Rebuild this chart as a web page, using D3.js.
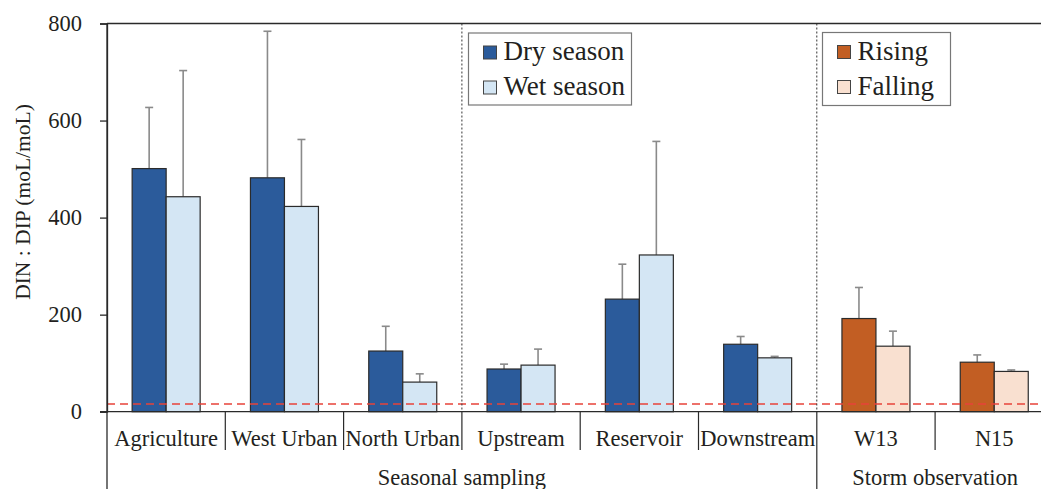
<!DOCTYPE html>
<html>
<head>
<meta charset="utf-8">
<script src="https://cdn.jsdelivr.net/npm/d3@7"></script>
<style>
  html, body { margin: 0; padding: 0; background: #fff; }
  svg { display: block; font-family: "Liberation Serif", "Times New Roman", serif; }
</style>
</head>
<body>
<svg id="chart" width="1041" height="489"></svg>
<script>
// DIN:DIP molar ratios (mean and standard deviation) per site
const seasonalSites = ["Agriculture", "West Urban", "North Urban", "Upstream", "Reservoir", "Downstream"];
const drySeason   = [501, 482, 125, 88, 232, 139];
const drySeasonSD = [126, 302, 51, 10, 72, 16];
const wetSeason   = [443, 423, 61, 96, 323, 111];
const wetSeasonSD = [260, 138, 17, 33, 234, 3];

const stormSites = ["W13", "N15"];
const rising     = [192, 102];
const risingSD   = [64, 15];
const falling    = [135, 83];
const fallingSD  = [31, 3];

const yTicks = [0, 200, 400, 600, 800];
const redfieldRatio = 16;
const groupLabels = ["Seasonal sampling", "Storm observation"];

const colors = {
  dry: "#2b5b9b", wet: "#d4e6f4",
  rising: "#c25e23", falling: "#f9e0d0"
};

const svg = d3.select("#chart");
const textColor = "#231f20";
const lineColor = "#2a2a2a";
const labelSize = 22.5;

const plotLeft = 107, plotRight = 1053.4, plotTop = 23.5, plotBottom = 411.7;

const sites = seasonalSites.concat(stormSites);
const x = d3.scaleBand().domain(sites).range([plotLeft, plotRight]).paddingInner(0).paddingOuter(0);
const barsWidth = 68;
const x1 = d3.scaleBand().domain([0, 1]).range([0, barsWidth]);
const y = d3.scaleLinear().domain([0, 800]).range([plotBottom, plotTop]);

// Build one record per bar
const bars = [];
seasonalSites.forEach((s, i) => {
  bars.push({ site: s, k: 0, v: drySeason[i], sd: drySeasonSD[i], fill: colors.dry });
  bars.push({ site: s, k: 1, v: wetSeason[i], sd: wetSeasonSD[i], fill: colors.wet });
});
stormSites.forEach((s, i) => {
  bars.push({ site: s, k: 0, v: rising[i], sd: risingSD[i], fill: colors.rising });
  bars.push({ site: s, k: 1, v: falling[i], sd: fallingSD[i], fill: colors.falling });
});
const barX = d => x(d.site) + (x.bandwidth() - barsWidth) / 2 + x1(d.k);

// Error bars (upper only), drawn under the bars
const eb = svg.append("g").attr("stroke", "#8a8a8a").attr("stroke-width", 1.6);
bars.forEach(d => {
  const cx = barX(d) + x1.bandwidth() / 2;
  eb.append("line").attr("x1", cx).attr("x2", cx).attr("y1", y(d.v)).attr("y2", y(d.v + d.sd));
  eb.append("line").attr("x1", cx - 4).attr("x2", cx + 4).attr("y1", y(d.v + d.sd)).attr("y2", y(d.v + d.sd));
});

// Bars
svg.append("g").selectAll("rect").data(bars).join("rect")
  .attr("x", barX)
  .attr("y", d => y(d.v))
  .attr("width", x1.bandwidth())
  .attr("height", d => y(0) - y(d.v))
  .attr("fill", d => d.fill)
  .attr("stroke", "#2b2b2b")
  .attr("stroke-width", 1.2);

// Redfield ratio reference line
svg.append("line")
  .attr("x1", plotLeft).attr("x2", plotRight)
  .attr("y1", y(redfieldRatio)).attr("y2", y(redfieldRatio))
  .attr("stroke", "#e8433a").attr("stroke-width", 1.4)
  .attr("stroke-dasharray", "8,5");

// Dotted separators between site groups
["Upstream", "W13"].forEach(s => {
  svg.append("line")
    .attr("x1", x(s)).attr("x2", x(s))
    .attr("y1", plotTop).attr("y2", plotBottom)
    .attr("stroke", "#333").attr("stroke-width", 1)
    .attr("stroke-dasharray", "2,2");
});

// Top border
svg.append("line").attr("x1", plotLeft).attr("x2", plotRight).attr("y1", plotTop).attr("y2", plotTop)
  .attr("stroke", lineColor).attr("stroke-width", 1.3);

// Y axis
const yAxis = d3.axisLeft(y).tickValues(yTicks).tickSize(7).tickPadding(18).tickFormat(d3.format("d"));
const yg = svg.append("g").attr("transform", `translate(${plotLeft},0)`).call(yAxis);
yg.select(".domain").attr("stroke", lineColor).attr("stroke-width", 1.3);
yg.selectAll(".tick line").attr("stroke", lineColor).attr("stroke-width", 1.3);
yg.selectAll(".tick text").attr("font-size", labelSize).attr("fill", textColor)
  .attr("font-family", "Liberation Serif, Times New Roman, serif");

// Extend y-axis line down past the category labels
svg.append("line").attr("x1", plotLeft).attr("x2", plotLeft).attr("y1", plotTop).attr("y2", 489)
  .attr("stroke", lineColor).attr("stroke-width", 1.3);

// X axis line
svg.append("line").attr("x1", plotLeft - 7).attr("x2", plotRight).attr("y1", plotBottom).attr("y2", plotBottom)
  .attr("stroke", lineColor).attr("stroke-width", 1.3);

// Category separator ticks below axis
sites.forEach((s, i) => {
  if (i === 0) return;
  const full = s === "W13";
  svg.append("line").attr("x1", x(s)).attr("x2", x(s))
    .attr("y1", plotBottom).attr("y2", full ? 489 : 450)
    .attr("stroke", lineColor).attr("stroke-width", 1.2);
});

// Category labels
svg.append("g").selectAll("text").data(sites).join("text")
  .attr("x", d => x(d) + x.bandwidth() / 2)
  .attr("y", 446)
  .attr("text-anchor", "middle")
  .attr("font-size", labelSize)
  .attr("fill", textColor)
  .text(d => d);

// Group labels
const groupCenters = [
  (x(seasonalSites[0]) + x("W13")) / 2,
  (x("W13") + plotRight) / 2
];
groupLabels.forEach((g, i) => {
  svg.append("text").attr("x", groupCenters[i]).attr("y", 485)
    .attr("text-anchor", "middle").attr("font-size", labelSize).attr("fill", textColor).text(g);
});

// Y axis title
svg.append("text")
  .attr("transform", `translate(30,202) rotate(-90)`)
  .attr("text-anchor", "middle")
  .attr("font-size", 21.5)
  .attr("fill", textColor)
  .text("DIN : DIP (moL/moL)");

// Legends
function legend(x0, y0, w, h, items) {
  const g = svg.append("g");
  g.append("rect").attr("x", x0).attr("y", y0).attr("width", w).attr("height", h)
    .attr("fill", "#fff").attr("stroke", "#777").attr("stroke-width", 1.2);
  items.forEach((it, i) => {
    const yy = y0 + 13 + i * 35;
    g.append("rect").attr("x", x0 + 15).attr("y", yy).attr("width", 13).attr("height", 13)
      .attr("fill", it.fill).attr("stroke", "#444").attr("stroke-width", 1);
    g.append("text").attr("x", x0 + 35).attr("y", yy + 14).attr("font-size", 27)
      .attr("fill", textColor).text(it.label);
  });
}
legend(468.5, 33, 163, 72, [{ label: "Dry season", fill: colors.dry }, { label: "Wet season", fill: colors.wet }]);
legend(822.5, 32.5, 128, 73, [{ label: "Rising", fill: colors.rising }, { label: "Falling", fill: colors.falling }]);
</script>
</body>
</html>
